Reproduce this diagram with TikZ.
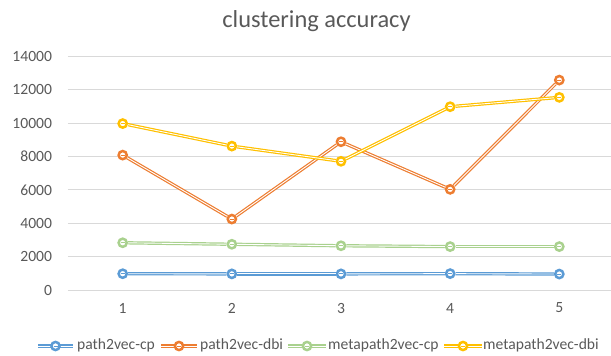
\documentclass[tikz,border=0pt]{standalone}
\usepackage{fontspec}
\setmainfont{Carlito}
\usepackage{tikz}
\definecolor{cpblue}{HTML}{5B9BD5}
\definecolor{dbiorange}{HTML}{ED7D31}
\definecolor{mcpgreen}{HTML}{A9D18E}
\definecolor{mdbiyellow}{HTML}{FFC000}
\definecolor{gridgray}{HTML}{D9D9D9}
\definecolor{labelgray}{HTML}{595959}
\tikzstyle{gridline}=[draw=gridgray,line width=0.9pt]
\tikzset{dot/.style={circle,draw=#1,fill=white,line width=2.5pt,minimum size=8.2pt,inner sep=0pt,
    path picture={\draw[#1,line width=0.9pt] ([xshift=-2pt]path picture bounding box.center)
      -- ([xshift=2pt]path picture bounding box.center);}},
  trace/.style={draw=#1,double=white,double distance=0.9pt,line width=1.2pt}}

\begin{document}
\begin{tikzpicture}[x=1pt,y=1pt,font=\fontsize{15.6}{18}\selectfont,text=labelgray]
\useasboundingbox (0,0) rectangle (611,356);
\node[font=\fontsize{24.4}{28}\selectfont,anchor=base] (title) at (316.5,328) {clustering accuracy};
\begin{scope}[shift={(122.7,66)},x=109.15pt,y=0.0167pt]
  \foreach \v in {0,2000,...,14000}{
    \draw[gridline] (-0.502,\v) -- (4.48,\v);
    \node[anchor=east,inner sep=0pt] (y-\v) at (-0.646,\v) {\v};
  }
  \foreach \i in {1,...,5}
    \node (x-\i) at (\i-1,-1078) {\i};
  % path2vec-cp
  \foreach \name/\i/\v in {cp-1/0/975, cp-2/1/965, cp-3/2/965, cp-4/3/980, cp-5/4/955}
    \node[dot=cpblue] (\name) at (\i,\v) {};
  \foreach \from/\to in {1/2,2/3,3/4,4/5}
    \draw[trace=cpblue] (cp-\from) -- (cp-\to);
  % path2vec-dbi
  \foreach \name/\i/\v in {dbi-1/0/8080, dbi-2/1/4250, dbi-3/2/8880, dbi-4/3/6030, dbi-5/4/12575}
    \node[dot=dbiorange] (\name) at (\i,\v) {};
  \foreach \from/\to in {1/2,2/3,3/4,4/5}
    \draw[trace=dbiorange] (dbi-\from) -- (dbi-\to);
  % metapath2vec-cp
  \foreach \name/\i/\v in {mcp-1/0/2830, mcp-2/1/2740, mcp-3/2/2650, mcp-4/3/2600, mcp-5/4/2600}
    \node[dot=mcpgreen] (\name) at (\i,\v) {};
  \foreach \from/\to in {1/2,2/3,3/4,4/5}
    \draw[trace=mcpgreen] (mcp-\from) -- (mcp-\to);
  % metapath2vec-dbi
  \foreach \name/\i/\v in {mdbi-1/0/9970, mdbi-2/1/8620, mdbi-3/2/7710, mdbi-4/3/10980, mdbi-5/4/11540}
    \node[dot=mdbiyellow] (\name) at (\i,\v) {};
  \foreach \from/\to in {1/2,2/3,3/4,4/5}
    \draw[trace=mdbiyellow] (mdbi-\from) -- (mdbi-\to);
\end{scope}
% legend
\foreach \name/\col/\xa/\xb/\xt/\lab in {lg-cp/cpblue/38/73/77/path2vec-cp,
    lg-dbi/dbiorange/161/197/200/path2vec-dbi, lg-mcp/mcpgreen/288/326/328/metapath2vec-cp,
    lg-mdbi/mdbiyellow/444/482/483/metapath2vec-dbi}{
  \coordinate (\name-a) at (\xa,10);
  \coordinate (\name-b) at (\xb,10);
  \draw[trace=\col] (\name-a) -- (\name-b);
  \node[dot=\col] (\name) at ({(\xa+\xb)/2},10) {};
  \node[anchor=base west,inner sep=0pt] (\name-t) at (\xt,6.5) {\lab};
}
\end{tikzpicture}
\end{document}
